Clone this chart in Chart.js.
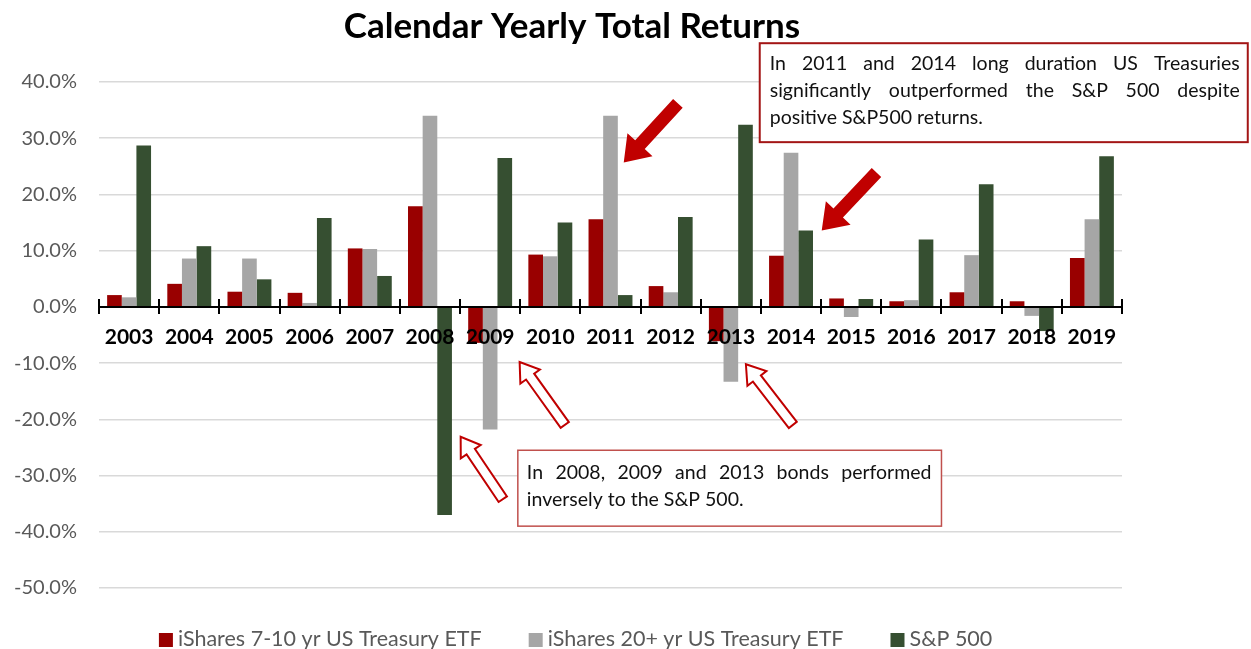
<!DOCTYPE html>
<html>
<head>
<meta charset="utf-8">
<script src="https://cdn.jsdelivr.net/npm/chart.js@4.4.1/dist/chart.umd.min.js"></script>
<style>
  html, body { margin: 0; padding: 0; background: #fff; }
  #wrap { width: 1251px; height: 649px; position: relative; }
</style>
</head>
<body>
<div id="wrap"><canvas id="myChart"></canvas></div>
<script>
// data (% total return)
const years = ['2003','2004','2005','2006','2007','2008','2009','2010','2011','2012','2013','2014','2015','2016','2017','2018','2019'];
const ief = [2.1, 4.1, 2.7, 2.5, 10.4, 17.9, -6.4, 9.3, 15.6, 3.7, -6.1, 9.1, 1.5, 1.0, 2.6, 1.0, 8.7];
const tlt = [1.7, 8.6, 8.6, 0.7, 10.3, 34.0, -21.8, 9.0, 34.0, 2.6, -13.3, 27.4, -1.8, 1.2, 9.2, -1.6, 15.6];
const spx = [28.7, 10.8, 4.9, 15.8, 5.5, -37.0, 26.5, 15.0, 2.1, 16.0, 32.4, 13.6, 1.4, 12.0, 21.8, -4.3, 26.8];
const seriesNames = ['iShares 7-10 yr US Treasury ETF', 'iShares 20+ yr US Treasury ETF', 'S&P 500'];
const seriesColors = ['#990000', '#a6a6a6', '#364f31'];
const yTicks = { min: -50, max: 40, step: 10 };

const titleText = 'Calendar Yearly Total Returns';
const note1 = ['In 2011 and 2014 long duration US Treasuries', 'significantly outperformed the S&P 500 despite', 'positive S&P500 returns.'];
const note2 = ['In 2008, 2009 and 2013 bonds performed', 'inversely to the S&P 500.'];

const FONT = 'Lato, "Open Sans", sans-serif';

function arrow(ctx, x1, y1, x2, y2, shaft, headW, headL, fill, stroke) {
    // x1,y1 tail -> x2,y2 tip
    const ang = Math.atan2(y2 - y1, x2 - x1);
    const len = Math.hypot(x2 - x1, y2 - y1);
    ctx.save();
    ctx.translate(x1, y1);
    ctx.rotate(ang);
    ctx.beginPath();
    ctx.moveTo(0, -shaft/2);
    ctx.lineTo(len - headL, -shaft/2);
    ctx.lineTo(len - headL, -headW/2);
    ctx.lineTo(len, 0);
    ctx.lineTo(len - headL, headW/2);
    ctx.lineTo(len - headL, shaft/2);
    ctx.lineTo(0, shaft/2);
    ctx.closePath();
    ctx.fillStyle = fill;
    ctx.fill();
    if (stroke) {
        ctx.lineWidth = 2;
        ctx.strokeStyle = stroke;
        ctx.lineJoin = 'miter';
        ctx.stroke();
    }
    ctx.restore();
}

function justified(ctx, lines, left, right, top, lh) {
    lines.forEach((line, k) => {
        const yy = top + k * lh;
        const words = line.split(' ');
        ctx.textAlign = 'left';
        if (k === lines.length - 1 || words.length < 2) {
            ctx.fillText(line, left, yy);
            return;
        }
        const wsum = words.reduce((s, w) => s + ctx.measureText(w).width, 0);
        const gap = (right - left - wsum) / (words.length - 1);
        let xx = left;
        words.forEach(w => {
            ctx.fillText(w, xx, yy);
            xx += ctx.measureText(w).width + gap;
        });
    });
}

const decor = {
    id: 'decor',
    afterDatasetsDraw(chart) {
        const {ctx, chartArea: a, scales: {x, y}} = chart;
        const y0 = y.getPixelForValue(0);
        ctx.save();
        ctx.strokeStyle = '#000';
        ctx.lineWidth = 2;
        ctx.beginPath();
        ctx.moveTo(a.left, y0);
        ctx.lineTo(a.right, y0);
        for (let i = 0; i <= years.length; i++) {
            const px = Math.round(x.getPixelForValue(i - 0.5));
            ctx.moveTo(px, y0 - 8);
            ctx.lineTo(px, y0 + 7);
        }
        ctx.stroke();
        ctx.restore();
    },
    afterDraw(chart) {
        const {ctx, scales: {x, y}} = chart;
        const X = v => x.getPixelForValue(v);
        const Y = v => y.getPixelForValue(v);
        ctx.save();

        // title
        ctx.fillStyle = '#000';
        ctx.font = 'bold 35px ' + FONT;
        ctx.textAlign = 'center';
        ctx.textBaseline = 'middle';
        ctx.fillText(titleText, X(7.36), 27);

        // note boxes
        ctx.font = '19.5px ' + FONT;
        ctx.fillStyle = '#fff';
        const b1 = [X(10.48), Y(46.9), X(18.59), Y(29.3)];
        ctx.fillRect(b1[0], b1[1], b1[2] - b1[0], b1[3] - b1[1]);
        ctx.strokeStyle = '#a31515';
        ctx.lineWidth = 2;
        ctx.strokeRect(b1[0], b1[1], b1[2] - b1[0], b1[3] - b1[1]);
        ctx.fillStyle = '#111';
        ctx.textBaseline = 'middle';
        justified(ctx, note1, b1[0] + 10, b1[2] - 8, b1[1] + 21, 27);

        const b2 = [X(6.46), Y(-25.5), X(13.5), Y(-39.0)];
        ctx.fillStyle = '#fff';
        ctx.fillRect(b2[0], b2[1], b2[2] - b2[0], b2[3] - b2[1]);
        ctx.strokeStyle = '#c0504d';
        ctx.lineWidth = 1.5;
        ctx.strokeRect(b2[0], b2[1], b2[2] - b2[0], b2[3] - b2[1]);
        ctx.fillStyle = '#111';
        justified(ctx, note2, b2[0] + 9, b2[2] - 10, b2[1] + 22, 27);

        // solid arrows (2011, 2014)
        arrow(ctx, X(9.12), Y(36.2), X(8.22), Y(25.7), 13, 34, 24, '#c00000');
        arrow(ctx, X(12.42), Y(23.9), X(11.51), Y(13.6), 13, 34, 24, '#c00000');
        // outline arrows (2008, 2009, 2013)
        arrow(ctx, X(6.21), Y(-34.2), X(5.51), Y(-23.1), 10, 24, 18, '#fff', '#c00000');
        arrow(ctx, X(7.24), Y(-21.0), X(6.49), Y(-9.8), 10, 24, 18, '#fff', '#c00000');
        arrow(ctx, X(11.03), Y(-21.0), X(10.25), Y(-10.2), 10, 24, 18, '#fff', '#c00000');

        // legend
        ctx.font = '21.5px ' + FONT;
        ctx.textBaseline = 'middle';
        ctx.textAlign = 'left';
        const box = 14, gapTxt = 5, gapItem = 47;
        const widths = seriesNames.map(n => box + gapTxt + ctx.measureText(n).width);
        const total = widths.reduce((s, w) => s + w, 0) + gapItem * (widths.length - 1);
        let lx = X(7.42) - total / 2;
        const ly = 640;
        seriesNames.forEach((n, k) => {
            ctx.fillStyle = seriesColors[k];
            ctx.fillRect(lx, ly - box / 2, box, box);
            ctx.fillStyle = '#595959';
            ctx.fillText(n, lx + box + gapTxt, ly - 1);
            lx += widths[k] + gapItem;
        });
        ctx.restore();
    }
};

const myChart = new Chart('myChart', {
    type: 'bar',
    data: {
        labels: years,
        datasets: [ief, tlt, spx].map((d, k) => ({
            label: seriesNames[k],
            data: d,
            backgroundColor: seriesColors[k],
            categoryPercentage: 0.73,
            barPercentage: 1.0
        }))
    },
    options: {
        responsive: true,
        maintainAspectRatio: false,
        animation: false,
        layout: { padding: { top: 82, right: 129, bottom: 61, left: 0 } },
        plugins: {
            legend: { display: false },
            title: { display: false },
            tooltip: { enabled: false }
        },
        scales: {
            x: {
                position: { y: 0 },
                grid: { display: false },
                border: { display: false },
                ticks: {
                    z: 1,
                    color: '#000',
                    font: { family: FONT, size: 21, weight: 'bold' },
                    padding: 10,
                    maxRotation: 0,
                    autoSkip: false
                }
            },
            y: {
                min: yTicks.min,
                max: yTicks.max,
                afterFit(scale) { scale.width = 99; },
                grid: { color: '#d9d9d9', lineWidth: 1.5, drawTicks: false },
                border: { display: false },
                ticks: {
                    stepSize: yTicks.step,
                    color: '#595959',
                    padding: 22,
                    font: { family: FONT, size: 20 },
                    callback: v => v.toFixed(1) + '%'
                }
            }
        }
    },
    plugins: [decor]
});
</script>
</body>
</html>
